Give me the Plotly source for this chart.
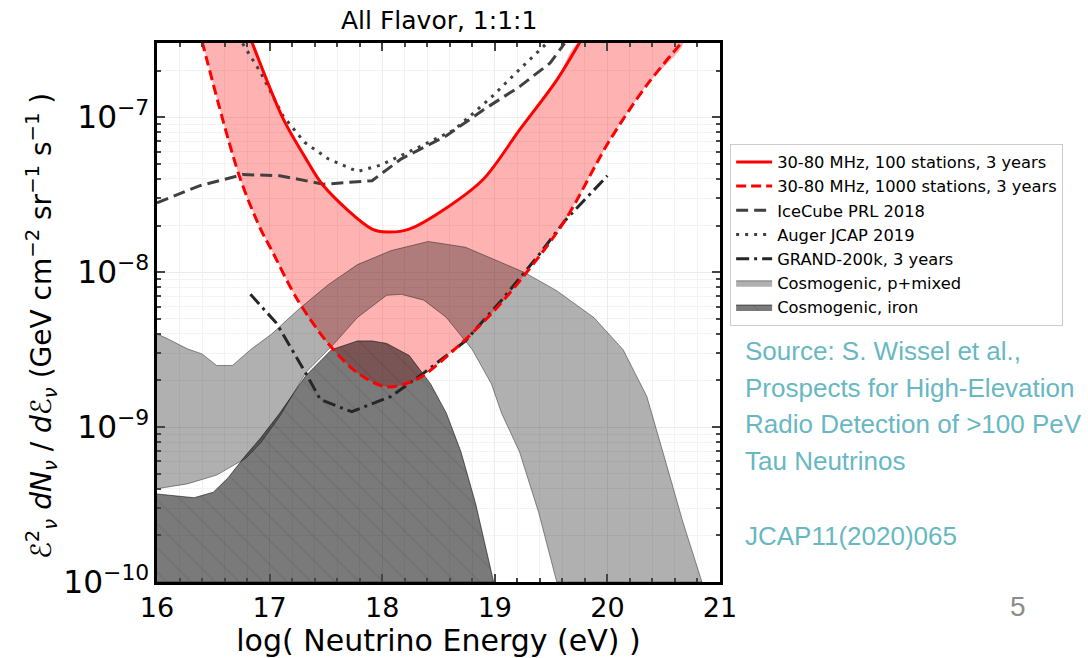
import plotly.graph_objects as go

# ---------------- data (log10 energy in eV, flux in GeV cm^-2 sr^-1 s^-1) ----------------
solid_x = [16.84, 17.12, 17.31, 17.48, 17.91, 18.05, 18.24, 18.57, 18.90, 19.22, 19.55, 19.76]
solid_y = [3.1e-7, 9.8e-8, 5.6e-8, 3.6e-8, 1.9e-8, 1.82e-8, 1.9e-8, 2.6e-8, 4.0e-8, 8.3e-8, 1.74e-7, 3.1e-7]

dashed_x = [16.40, 16.73, 16.92, 17.02, 17.25, 17.52, 17.78, 18.04, 18.31, 18.64, 18.97, 19.26, 19.62, 20.01, 20.34, 20.67]
dashed_y = [3.1e-7, 4.2e-8, 1.9e-8, 1.38e-8, 6.6e-9, 3.47e-9, 2.24e-9, 1.82e-9, 2.04e-9, 3.16e-9, 5.4e-9, 9.5e-9, 2.14e-8, 6.9e-8, 1.58e-7, 3.1e-7]

icecube_x = [16.00, 16.37, 16.76, 17.09, 17.48, 17.91, 18.17, 18.57, 18.90, 19.22, 19.49, 19.62]
icecube_y = [2.8e-8, 3.6e-8, 4.27e-8, 4.2e-8, 3.7e-8, 3.9e-8, 5.4e-8, 7.6e-8, 1.12e-7, 1.58e-7, 2.24e-7, 3.0e-7]

auger_x = [16.76, 16.92, 17.12, 17.31, 17.52, 17.78, 17.98, 18.24, 18.64, 18.97, 19.22, 19.46]
auger_y = [3.0e-7, 1.95e-7, 1.02e-7, 6.9e-8, 5.4e-8, 4.47e-8, 4.9e-8, 6.0e-8, 8.3e-8, 1.35e-7, 2.04e-7, 3.0e-7]

grand_x = [16.83, 17.06, 17.32, 17.45, 17.65, 17.73, 18.08, 18.37, 18.74, 19.06, 19.39, 19.62, 20.00]
grand_y = [7.2e-9, 4.7e-9, 2.24e-9, 1.51e-9, 1.32e-9, 1.26e-9, 1.58e-9, 2.24e-9, 3.6e-9, 6.6e-9, 1.29e-8, 2.14e-8, 4.2e-8]

pmix_up_x = [16.00, 16.10, 16.27, 16.40, 16.53, 16.67, 16.83, 17.02, 17.25, 17.52, 17.78, 18.08, 18.41,
             18.74, 18.97, 19.26, 19.55, 19.88, 20.14, 20.35, 20.52, 20.67, 20.84]
pmix_up_y = [4.0e-9, 3.7e-9, 3.2e-9, 2.97e-9, 2.5e-9, 2.5e-9, 3.16e-9, 4.0e-9, 5.7e-9, 8.3e-9, 1.12e-8, 1.38e-8, 1.58e-8,
             1.45e-8, 1.23e-8, 1.0e-8, 7.6e-9, 5.1e-9, 3.16e-9, 1.58e-9, 5.9e-10, 2.45e-10, 1.0e-10]
pmix_lo_x = [16.00, 16.27, 16.53, 16.79, 16.92, 17.09, 17.32, 17.58, 17.78, 18.04, 18.17, 18.37, 18.57,
             18.80, 18.97, 19.06, 19.22, 19.39, 19.55]
pmix_lo_y = [4.0e-10, 4.3e-10, 4.9e-10, 6.3e-10, 7.9e-10, 1.17e-9, 2.24e-9, 3.5e-9, 5.1e-9, 7.1e-9, 7.2e-9, 6.6e-9, 5.1e-9,
             3.16e-9, 1.9e-9, 1.23e-9, 6.9e-10, 2.8e-10, 1.0e-10]

iron_up_x = [16.00, 16.33, 16.50, 16.63, 16.79, 16.92, 17.09, 17.32, 17.55, 17.78, 17.91, 18.04, 18.24,
             18.43, 18.57, 18.70, 18.83, 18.99]
iron_up_y = [3.7e-10, 3.5e-10, 3.8e-10, 4.7e-10, 6.6e-10, 8.5e-10, 1.23e-9, 2.14e-9, 3.16e-9, 3.6e-9, 3.6e-9, 3.47e-9, 2.9e-9,
             1.9e-9, 1.23e-9, 6.9e-10, 3.2e-10, 1.0e-10]
iron_lo_x = [18.99, 16.00]
iron_lo_y = [1.0e-10, 1.0e-10]

x_ticks = [16, 17, 18, 19, 20, 21]

FONT = "DejaVu Sans"

fig = go.Figure()

# pink band between the two sensitivity curves
fig.add_trace(go.Scatter(
    x=dashed_x + solid_x[::-1], y=dashed_y + solid_y[::-1],
    fill="toself", mode="lines", fillcolor="rgba(255,0,0,0.3)",
    line=dict(width=0, shape="spline", smoothing=0.9, color="rgba(0,0,0,0)"),
    showlegend=False, hoverinfo="skip"))

# cosmogenic p+mixed
fig.add_trace(go.Scatter(
    x=pmix_up_x + pmix_lo_x[::-1], y=pmix_up_y + pmix_lo_y[::-1],
    fill="toself", mode="lines", fillcolor="rgba(0,0,0,0.31)",
    line=dict(color="rgba(0,0,0,0.4)", width=1),
    name="Cosmogenic, p+mixed", legendrank=6))

# cosmogenic iron
fig.add_trace(go.Scatter(
    x=iron_up_x + iron_lo_x, y=iron_up_y + iron_lo_y,
    fill="toself", mode="lines", fillcolor="rgba(0,0,0,0.52)",
    fillpattern=dict(shape="\\", bgcolor="rgba(0,0,0,0.52)", fgcolor="rgba(0,0,0,0.13)",
                     size=17, solidity=0.1),
    line=dict(color="rgba(0,0,0,0.55)", width=1),
    name="Cosmogenic, iron", legendrank=7))

# lines
fig.add_trace(go.Scatter(x=icecube_x, y=icecube_y, mode="lines",
                         line=dict(color="#404040", width=3, dash="12px,6px"),
                         name="IceCube PRL 2018", legendrank=3))
fig.add_trace(go.Scatter(x=auger_x, y=auger_y, mode="lines",
                         line=dict(color="#404040", width=3, dash="3px,6px"),
                         name="Auger JCAP 2019", legendrank=4))
fig.add_trace(go.Scatter(x=grand_x, y=grand_y, mode="lines",
                         line=dict(color="#262626", width=3, dash="13px,5px,3px,5px"),
                         name="GRAND-200k, 3 years", legendrank=5))
fig.add_trace(go.Scatter(x=solid_x, y=solid_y, mode="lines", line_shape="spline",
                         line=dict(color="#ff0000", width=3, smoothing=0.9),
                         name="30-80 MHz, 100 stations, 3 years", legendrank=1))
fig.add_trace(go.Scatter(x=dashed_x, y=dashed_y, mode="lines", line_shape="spline",
                         line=dict(color="#ff0000", width=3, dash="10px,5px", smoothing=0.9),
                         name="30-80 MHz, 1000 stations, 3 years", legendrank=2))

grid_c = "#ececec"
fig.update_xaxes(
    range=[16, 21], tickvals=x_ticks, ticks="inside", ticklen=8, tickwidth=1.5,
    showline=True, linecolor="black", linewidth=2.5, mirror="allticks",
    showgrid=True, gridcolor=grid_c, gridwidth=1, zeroline=False,
    minor=dict(dtick=0.2, ticks="inside", ticklen=4, showgrid=True, gridcolor="#f3f3f3"),
    tickfont=dict(family=FONT, size=27, color="black"),
    title=dict(text="log( Neutrino Energy (eV) )", font=dict(family=FONT, size=30, color="black"), standoff=2),
)
fig.update_yaxes(
    type="log", range=[-10, -6.52], dtick=1, exponentformat="power",
    ticks="inside", ticklen=8, tickwidth=1.5,
    showline=True, linecolor="black", linewidth=2.5, mirror="allticks",
    showgrid=True, gridcolor=grid_c, gridwidth=1, zeroline=False,
    minor=dict(dtick="D1", ticks="inside", ticklen=4, showgrid=True, gridcolor="#f3f3f3"),
    tickfont=dict(family=FONT, size=25, color="black"),
)

annots = [
    dict(text="All Flavor, 1:1:1", x=0.5, y=1.042, xref="paper", yref="paper",
         xanchor="center", yanchor="middle", showarrow=False,
         font=dict(family=FONT, size=25, color="black")),
    dict(text="<i>ℰ</i><sup>2</sup><sub><i>ν</i></sub> <i>dN<sub>ν</sub></i> / <i>dℰ<sub>ν</sub></i> (GeV cm<sup>−2</sup> sr<sup>−1</sup> s<sup>−1</sup> )",
         x=-0.204, y=0.475, xref="paper", yref="paper", textangle=-90,
         xanchor="center", yanchor="middle", showarrow=False,
         font=dict(family=FONT, size=28, color="black")),
]
teal = "#67b8c2"
src_lines = [("Source: S. Wissel et al.,", 0.428), ("Prospects for High-Elevation", 0.360),
             ("Radio Detection of >100 PeV", 0.294), ("Tau Neutrinos", 0.225),
             ("JCAP11(2020)065", 0.085)]
for t, yy in src_lines:
    annots.append(dict(text=t, x=1.041, y=yy, xref="paper", yref="paper",
                       xanchor="left", yanchor="middle", showarrow=False,
                       font=dict(family="Liberation Sans", size=26, color=teal)))
annots.append(dict(text="5", x=1.529, y=-0.045, xref="paper", yref="paper",
                   xanchor="center", yanchor="middle", showarrow=False,
                   font=dict(family="Liberation Sans", size=28, color="#8c8c8c")))

fig.update_layout(
    width=1088, height=658,
    margin=dict(l=157, r=368, t=43, b=70),
    paper_bgcolor="white", plot_bgcolor="white",
    annotations=annots,
    legend=dict(x=1.018, y=0.813, xanchor="left", yanchor="top",
                bgcolor="white", bordercolor="#cccccc", borderwidth=1,
                font=dict(family=FONT, size=16.3, color="black"),
                tracegroupgap=0, itemwidth=36),
    showlegend=True,
)

fig.write_html("out.html")
